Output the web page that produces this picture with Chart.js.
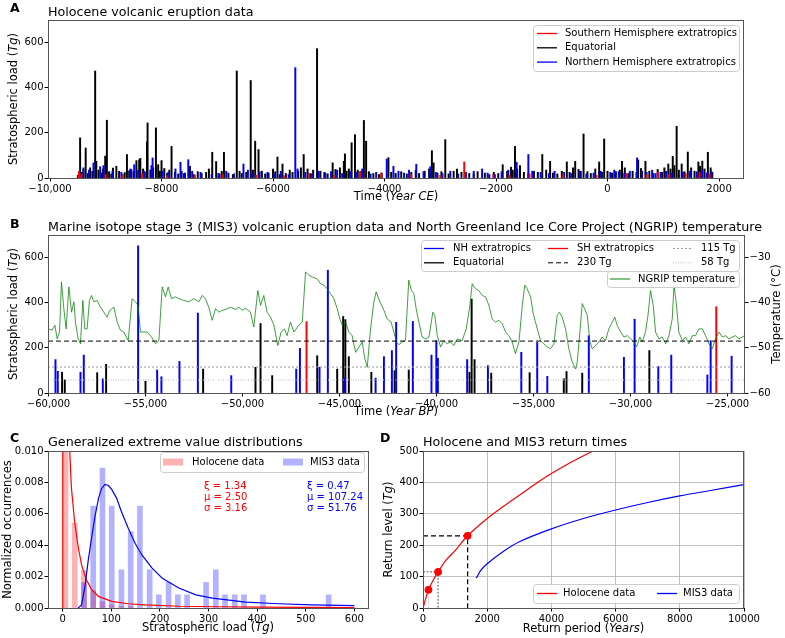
<!DOCTYPE html>
<html>
<head>
<meta charset="utf-8">
<script src="https://cdn.jsdelivr.net/npm/chart.js@4.4.1/dist/chart.umd.min.js"></script>
<style>
  html, body { margin: 0; padding: 0; background: #fff; }
  #wrap { position: relative; width: 785px; height: 638px; }
  #wrap canvas { position: absolute; left: 0; top: 0; }
</style>
</head>
<body>
<div id="wrap">
  <canvas id="chartA" width="785" height="638"></canvas>
  <canvas id="chartB" width="785" height="638"></canvas>
  <canvas id="chartC" width="785" height="638"></canvas>
  <canvas id="chartD" width="785" height="638"></canvas>
</div>
<script>
// ---------- Panel A: Holocene eruptions, [year CE, stratospheric load Tg] ----------
const holoSH = [[-9480,30],[-9440,18],[-9000,15],[-8700,12],[-8350,20],[-7900,10],[-7400,12],[-6900,15],
  [-6300,12],[-5800,10],[-5350,18],[-4900,12],[-4440,28],[-4060,22],[-3520,15],[-3000,12],[-2570,71],
  [-2050,15],[-1760,12],[-1400,18],[-800,15],[-200,12],[350,20],[700,15],[900,25],[1100,15],[1400,20],
  [1650,25],[1830,18]];
const holoEq = [[-9500,12],[-9460,178],[-9430,25],[-9400,38],[-9360,133],[-9320,20],[-9280,45],[-9240,30],
  [-9190,474],[-9170,74],[-9130,35],[-9080,22],[-9050,40],[-9010,97],[-8980,256],[-8940,28],[-8900,18],
  [-8870,44],[-8810,52],[-8760,30],[-8700,15],[-8660,24],[-8620,104],[-8580,32],[-8540,37],[-8500,28],
  [-8450,77],[-8400,81],[-8380,87],[-8330,40],[-8300,25],[-8260,160],[-8250,244],[-8200,35],[-8150,45],
  [-8100,222],[-8060,59],[-8030,30],[-8000,77],[-7950,42],[-7900,20],[-7860,35],[-7820,140],[-7760,25],
  [-7700,18],[-7640,30],[-7580,22],[-7490,52],[-7420,15],[-7350,28],[-7280,20],[-7200,25],[-7150,40],
  [-7090,114],[-7020,73],[-6960,18],[-6920,30],[-6880,114],[-6800,22],[-6720,15],[-6650,474],[-6600,30],
  [-6560,20],[-6480,25],[-6400,432],[-6360,35],[-6320,163],[-6260,126],[-6200,30],[-6140,18],[-6080,22],
  [-6000,40],[-5960,28],[-5920,93],[-5880,15],[-5830,62],[-5770,20],[-5700,35],[-5650,25],[-5550,30],
  [-5500,45],[-5450,104],[-5380,40],[-5330,20],[-5280,35],[-5210,573],[-5150,30],[-5080,25],[-5020,18],
  [-4930,67],[-4880,38],[-4800,45],[-4730,74],[-4710,107],[-4680,30],[-4640,40],[-4590,156],[-4530,192],
  [-4480,35],[-4420,30],[-4370,255],[-4330,163],[-4280,28],[-4200,20],[-4100,15],[-4050,22],[-3930,90],
  [-3880,25],[-3800,20],[-3700,28],[-3600,18],[-3520,25],[-3440,35],[-3380,20],[-3280,30],[-3200,40],
  [-3150,121],[-3120,67],[-3050,22],[-2980,28],[-2910,170],[-2850,18],[-2760,30],[-2700,40],[-2620,25],
  [-2480,20],[-2400,18],[-2330,28],[-2200,22],[-2120,15],[-2040,25],[-1960,20],[-1880,59],[-1800,30],
  [-1730,48],[-1700,35],[-1660,140],[-1620,40],[-1570,55],[-1500,25],[-1420,20],[-1320,30],[-1250,25],
  [-1170,104],[-1100,35],[-1030,74],[-980,22],[-900,18],[-820,30],[-730,71],[-680,25],[-620,45],[-580,74],
  [-520,38],[-480,30],[-430,195],[-360,28],[-300,20],[-220,40],[-150,71],[-100,25],[-60,173],[0,30],
  [80,22],[150,28],[220,35],[260,74],[310,45],[380,20],[450,30],[520,25],[550,80],[600,42],[680,74],
  [750,30],[820,20],[900,38],[980,25],[1020,45],[1090,62],[1130,40],[1170,96],[1200,55],[1240,229],
  [1280,35],[1330,62],[1380,28],[1440,115],[1500,45],[1560,30],[1630,71],[1660,52],[1700,75],[1740,40],
  [1800,114],[1850,45],[1880,25]];
const holoNH = [[-9400,45],[-9300,35],[-9220,67],[-9100,50],[-9040,55],[-8880,30],[-8720,25],[-8560,40],
  [-8490,59],[-8420,35],[-8310,30],[-8180,55],[-8160,89],[-7980,30],[-7880,25],[-7750,40],[-7660,70],
  [-7600,20],[-7520,81],[-7450,30],[-7300,25],[-7100,15],[-6980,20],[-6840,30],[-6700,18],[-6530,62],
  [-6450,35],[-6380,20],[-6240,28],[-6100,25],[-5980,20],[-5860,30],[-5720,15],[-5600,489],[-5560,40],
  [-5420,25],[-5300,18],[-5180,30],[-5060,22],[-4960,28],[-4850,35],[-4760,20],[-4620,30],[-4500,25],
  [-4400,40],[-4250,18],[-4150,25],[-3960,84],[-3840,52],[-3750,30],[-3650,22],[-3560,35],[-3430,61],
  [-3300,28],[-3180,50],[-3080,25],[-2960,20],[-2820,30],[-2680,18],[-2540,25],[-2400,30],[-2250,40],
  [-2150,22],[-2020,15],[-1900,28],[-1780,35],[-1630,70],[-1420,104],[-1350,30],[-1200,25],[-1050,20],
  [-950,30],[-780,25],[-650,20],[-500,30],[-380,18],[-250,22],[-120,30],[50,25],[120,35],[200,28],
  [300,20],[400,30],[530,89],[620,30],[700,25],[800,35],[860,20],[950,25],[1050,30],[1150,20],[1350,25],
  [1480,30],[1600,28],[1700,35],[1780,22],[1860,30]];
const holoTicksX = [-10000, -8000, -6000, -4000, -2000, 0, 2000];
const loadTicks = [0, 200, 400, 600];

// ---------- Panel B: MIS3 eruptions [year BP, Tg] and NGRIP temperature [year BP, degC] ----------
const mis3NH = [[-59640,148],[-59520,96],[-58350,92],[-58180,168],[-57200,63],[-55380,652],[-54400,102],
  [-54180,72],[-53250,140],[-52300,354],[-50580,77],[-47230,106],[-47040,198],[-46030,114],[-45600,544],
  [-44760,66],[-43140,66],[-42710,161],[-42300,188],[-42080,313],[-41220,317],[-40260,168],[-40010,232],
  [-39930,154],[-38420,148],[-37350,121],[-35630,180],[-34810,224],[-34290,74],[-32150,254],[-30340,158],
  [-29790,327],[-28570,117],[-27900,168],[-26040,80],[-25870,232],[-24790,163]];
const mis3Eq = [[-59300,92],[-59160,58],[-57490,90],[-57030,127],[-55000,52],[-52030,106],[-49330,114],
  [-49070,308],[-48470,77],[-46150,165],[-45120,106],[-44810,339],[-44700,325],[-44520,161],[-43360,92],
  [-42160,99],[-41430,102],[-38300,92],[-38190,416],[-38040,148],[-37180,88],[-35200,90],[-33440,63],
  [-33300,95],[-32490,88],[-29030,188]];
const mis3SH = [[-46700,316],[-25580,382]];
const ngripTemp = [[-60000,-45.8],[-59810,-46.1],[-59670,-45.0],[-59550,-48.0],[-59430,-46.5],[-59330,-35.4],
  [-59210,-41.3],[-59090,-45.8],[-58950,-36.5],[-58810,-42.1],[-58690,-39.8],[-58610,-44.3],[-58470,-48.0],
  [-58350,-49.1],[-58230,-39.5],[-58130,-45.8],[-58010,-45.8],[-57890,-39.5],[-57780,-38.4],[-57660,-39.8],
  [-57490,-39.5],[-57320,-41.0],[-57150,-42.1],[-56980,-43.2],[-56840,-41.7],[-56630,-41.0],[-56460,-44.3],
  [-56290,-46.1],[-56120,-46.5],[-55890,-48.4],[-55690,-39.1],[-55520,-39.8],[-55380,-40.6],[-55260,-46.5],
  [-55140,-46.5],[-54910,-46.5],[-54690,-47.6],[-54480,-49.1],[-54310,-48.4],[-54140,-36.5],[-53970,-38.7],
  [-53830,-36.5],[-53660,-39.1],[-53450,-38.7],[-53280,-39.1],[-53020,-39.5],[-52770,-39.8],[-52510,-39.1],
  [-52250,-39.8],[-52080,-38.4],[-51910,-39.1],[-51740,-41.0],[-51560,-43.9],[-51390,-41.3],[-51220,-42.1],
  [-51050,-41.7],[-50880,-41.5],[-50620,-41.0],[-50360,-41.5],[-50190,-41.0],[-50020,-41.7],[-49850,-41.2],
  [-49590,-42.1],[-49420,-45.4],[-49210,-37.3],[-49070,-40.6],[-48900,-38.4],[-48730,-42.1],[-48560,-43.2],
  [-48380,-45.0],[-48180,-49.5],[-48010,-46.5],[-47830,-45.8],[-47700,-47.3],[-47530,-44.3],[-47350,-46.5],
  [-47100,-45.0],[-46920,-44.3],[-46750,-33.2],[-46580,-33.9],[-46410,-34.3],[-46150,-34.7],[-45980,-35.8],
  [-45810,-36.1],[-45640,-36.9],[-45460,-38.0],[-45290,-39.1],[-45120,-41.3],[-44980,-43.6],[-44860,-45.0],
  [-44690,-44.3],[-44520,-46.5],[-44350,-47.3],[-44170,-51.0],[-44000,-49.8],[-43830,-48.7],[-43710,-52.1],
  [-43570,-54.3],[-43400,-45.8],[-43230,-39.8],[-43110,-37.6],[-42920,-39.8],[-42710,-41.7],[-42540,-43.6],
  [-42340,-44.3],[-42200,-46.5],[-42060,-48.7],[-41940,-49.3],[-41770,-48.7],[-41600,-48.4],[-41430,-35.0],
  [-41290,-37.3],[-41170,-38.0],[-41050,-41.3],[-40910,-44.3],[-40740,-47.6],[-40570,-48.0],[-40390,-47.6],
  [-40190,-42.1],[-40090,-42.8],[-39960,-47.3],[-39790,-49.8],[-39620,-48.4],[-39450,-49.1],[-39280,-48.7],
  [-39110,-49.5],[-38930,-48.0],[-38680,-48.4],[-38470,-45.8],[-38300,-41.3],[-38160,-35.8],[-37990,-36.9],
  [-37820,-37.3],[-37640,-38.4],[-37470,-38.7],[-37300,-40.6],[-37130,-43.6],[-36960,-44.3],[-36790,-43.9],
  [-36610,-44.7],[-36440,-46.5],[-36270,-47.3],[-36100,-48.7],[-35930,-51.3],[-35750,-48.7],[-35580,-40.6],
  [-35450,-36.1],[-35330,-36.9],[-35150,-38.7],[-35030,-42.1],[-34900,-44.3],[-34760,-46.5],[-34640,-48.4],
  [-34470,-49.1],[-34290,-49.8],[-34120,-50.2],[-33950,-49.1],[-33780,-42.8],[-33660,-42.1],[-33520,-43.2],
  [-33350,-45.8],[-33180,-50.2],[-33000,-53.2],[-32830,-54.7],[-32750,-53.2],[-32610,-46.5],[-32490,-40.2],
  [-32370,-41.3],[-32230,-42.8],[-32090,-48.7],[-31970,-50.2],[-31800,-49.5],[-31630,-48.7],[-31460,-47.6],
  [-31290,-48.4],[-31120,-45.8],[-30940,-44.3],[-30810,-43.2],[-30690,-45.0],[-30510,-46.5],[-30340,-47.6],
  [-30170,-47.3],[-30000,-48.0],[-29830,-48.7],[-29690,-49.8],[-29520,-47.6],[-29400,-48.7],[-29230,-46.5],
  [-29100,-42.8],[-28970,-37.3],[-28830,-40.6],[-28710,-46.5],[-28540,-48.0],[-28370,-47.6],[-28190,-49.1],
  [-28020,-47.3],[-27850,-43.6],[-27760,-36.1],[-27630,-40.6],[-27510,-46.5],[-27330,-48.4],[-27160,-47.6],
  [-26990,-49.1],[-26820,-47.3],[-26650,-47.3],[-26480,-45.8],[-26300,-45.8],[-26130,-47.3],[-25960,-49.1],
  [-25790,-50.2],[-25620,-48.0],[-25440,-46.5],[-25270,-47.6],[-25100,-47.3],[-24930,-48.0],[-24760,-47.6],
  [-24590,-47.3],[-24410,-48.0],[-24240,-47.6],[-24120,-47.3]];
const mis3Thresholds = [230, 115, 58];
const mis3TicksX = [-60000, -55000, -50000, -45000, -40000, -35000, -30000, -25000];
const tempTicks = [-60, -50, -40, -30];

// ---------- Panel C: histograms and GEV fits ----------
const holoHistLoad = [6, 25, 44, 63, 82, 101, 121, 140];
const holoHistDensity = [0.047, 0.0054, 0.0024, 0.0011, 0.0004, 0.0002, 0.0001, 0.0001];
const mis3HistLoad = [44, 63, 82, 101, 121, 140, 159, 179, 198, 218, 237, 256, 295, 315, 334, 354, 373, 412, 547];
const mis3HistDensity = [0.00163, 0.00649, 0.00892, 0.00649, 0.00243, 0.00486, 0.00649, 0.00243, 0.00084,
  0.00163, 0.00084, 0.00084, 0.00163, 0.00243, 0.00084, 0.00084, 0.00084, 0.00084, 0.00084];
const holoGevLoad = [0.14, 0.4, 1, 2, 4, 7, 10, 15, 18, 25, 32, 39, 49, 60, 74, 101, 135, 170, 240, 320, 400, 500, 600];
const holoGevPdf = [0, 0.05, 0.09, 0.07, 0.04, 0.02, 0.013, 0.0098, 0.0077, 0.0054, 0.0039, 0.00275, 0.0018,
  0.00116, 0.00074, 0.00042, 0.00027, 0.0002, 0.00011, 0.00008, 0.00006, 0.00004, 0.00003];
const mis3GevLoad = [32, 39, 46, 53, 60, 67, 74, 80, 87, 94, 101, 111, 121, 135, 149, 163, 184, 205, 239, 274,
  308, 376, 445, 513, 600];
const mis3GevPdf = [0, 0.0002, 0.00137, 0.0031, 0.00455, 0.0059, 0.0070, 0.0076, 0.00787, 0.0078, 0.00755,
  0.0070, 0.00613, 0.00508, 0.00412, 0.00338, 0.00254, 0.0019, 0.00127, 0.00084, 0.00063, 0.00038, 0.00027,
  0.0002, 0.00015];
const holoGevParams = ['\u03be = 1.34', '\u03bc = 2.50', '\u03c3 = 3.16'];
const mis3GevParams = ['\u03be = 0.47', '\u03bc = 107.24', '\u03c3 = 51.76'];
const gevTicksX = [0, 100, 200, 300, 400, 500, 600];
const gevTicksY = [0, 0.002, 0.004, 0.006, 0.008, 0.010];

// ---------- Panel D: return levels ----------
const holoReturnPeriod = [20, 50, 100, 170, 300, 470, 700, 1000, 1390, 2000, 2500, 3000, 3500, 4000, 4500, 5000, 5300];
const holoReturnLevel = [5, 18, 35, 58, 85, 115, 150, 183, 230, 285, 323, 359, 395, 428, 458, 485, 500];
const mis3ReturnPeriod = [1660, 1800, 2000, 2500, 3000, 4000, 5000, 6000, 7000, 8000, 9000, 10000];
const mis3ReturnLevel = [95, 120, 141, 180, 211, 252, 285, 312, 336, 357, 375, 393];
const markedPeriod = [170, 470, 1390];
const markedLevel = [58, 115, 230];
const returnTicksX = [0, 2000, 4000, 6000, 8000, 10000];
const returnTicksY = [0, 100, 200, 300, 400, 500];

// ---------- helpers ----------
const FONT = '"DejaVu Sans", sans-serif';
Chart.defaults.font.family = FONT;
Chart.defaults.font.size = 10;
Chart.defaults.color = '#000';

const RED = '#ff0000', BLUE = '#0000ff', GREEN = 'rgba(0,128,0,0.75)';

function pairs(list) { return list.map(p => ({ x: p[0], y: p[1] })); }
function zip(xs, ys) { return xs.map((x, i) => ({ x: x, y: ys[i] })); }
const fmtPlain = v => (v < 0 ? '\u2212' : '') + Math.abs(v);
const fmtComma = v => (v < 0 ? '\u2212' : '') +
  (Math.abs(v) >= 10000 ? Math.abs(v).toLocaleString('en-US') : String(Math.abs(v)));

function axis(o) {
  return {
    type: 'linear', position: o.position, min: o.min, max: o.max, offset: false,
    afterBuildTicks: s => { s.ticks = o.ticks.map(v => ({ value: v })); },
    afterFit: s => {
      if (o.width != null) s.width = o.width;
      if (o.height != null) s.height = o.height;
    },
    ticks: { autoSkip: false, maxRotation: 0, minRotation: 0, padding: o.padding, color: '#000',
      font: { size: 10 }, callback: o.fmt },
    grid: { display: true, offset: false, drawOnChartArea: !!o.grid, drawTicks: true, tickLength: 3.5,
      tickColor: '#000', tickWidth: 1, color: '#b0b0b0', lineWidth: 0.8 },
    border: { display: false }
  };
}

function bars(list, color, order, thick) {
  return { type: 'bar', data: pairs(list), backgroundColor: color, borderWidth: 0, barThickness: thick || 1.3,
    grouped: false, order: order, clip: 0 };
}
function hline(y, xmin, xmax, color, dash, order, yAxisID) {
  return { type: 'line', data: [{ x: xmin, y: y }, { x: xmax, y: y }], borderColor: color, borderWidth: 1,
    borderDash: dash, pointRadius: 0, order: order, yAxisID: yAxisID || 'y' };
}

function text(ctx, str, x, y, o) {
  o = o || {};
  ctx.save();
  ctx.font = (o.weight || '') + ' ' + (o.size || 10) + 'px ' + FONT;
  ctx.fillStyle = o.color || '#000';
  ctx.textAlign = o.align || 'left';
  ctx.textBaseline = o.baseline || 'middle';
  ctx.fillText(str, x, y);
  ctx.restore();
}
// parts: [text, italic]
function rich(ctx, parts, x, y, size, rotate) {
  ctx.save();
  ctx.translate(x, y);
  if (rotate) ctx.rotate(rotate);
  ctx.textBaseline = 'middle';
  ctx.textAlign = 'left';
  ctx.fillStyle = '#000';
  const fonts = parts.map(p => (p[1] ? 'italic ' : '') + size + 'px ' + FONT);
  const widths = parts.map((p, i) => { ctx.font = fonts[i]; return ctx.measureText(p[0]).width; });
  let cx = -widths.reduce((a, b) => a + b, 0) / 2;
  parts.forEach((p, i) => { ctx.font = fonts[i]; ctx.fillText(p[0], cx, 0); cx += widths[i]; });
  ctx.restore();
}
function frame(ctx, a) {
  ctx.save();
  ctx.strokeStyle = '#555';
  ctx.lineWidth = 1;
  const l = Math.round(a.left), t = Math.round(a.top), r = Math.round(a.right), b = Math.round(a.bottom);
  ctx.strokeRect(l + 0.5, t + 0.5, r - l - 1, b - t);
  ctx.restore();
}
function legendBox(ctx, x, y, w, h) {
  ctx.save();
  ctx.fillStyle = 'rgba(255,255,255,0.85)';
  ctx.strokeStyle = '#cccccc';
  ctx.lineWidth = 1;
  ctx.beginPath();
  if (ctx.roundRect) ctx.roundRect(x + 0.5, y + 0.5, w, h, 3); else ctx.rect(x + 0.5, y + 0.5, w, h);
  ctx.fill();
  ctx.stroke();
  ctx.restore();
}
function legendLine(ctx, x1, x2, y, color, dash, width) {
  ctx.save();
  ctx.strokeStyle = color;
  ctx.lineWidth = width || 1.3;
  ctx.setLineDash(dash || []);
  ctx.beginPath();
  ctx.moveTo(x1, y);
  ctx.lineTo(x2, y);
  ctx.stroke();
  ctx.restore();
}
function titles(ctx, letter, lx, ly, title, tx, ty) {
  text(ctx, letter, lx, ly, { size: 12.5, weight: 'bold', baseline: 'alphabetic' });
  text(ctx, title, tx, ty, { size: 12.7, baseline: 'alphabetic' });
}

function makeChart(id, datasets, scales, padding, decor) {
  return new Chart(document.getElementById(id), {
    type: 'line',
    data: { datasets: datasets },
    options: {
      responsive: false, animation: false, devicePixelRatio: 1,
      layout: { padding: padding },
      scales: scales,
      plugins: { legend: { display: false }, tooltip: { enabled: false }, title: { display: false } }
    },
    plugins: [{ id: 'decor', afterDraw(chart) { frame(chart.ctx, chart.chartArea); decor(chart.ctx, chart); } }]
  });
}

// ---------- Panel A ----------
makeChart('chartA', [
  bars(holoSH, RED, 0),
  bars(holoNH, BLUE, 1),
  bars(holoEq, '#000', 2)
], {
  x: axis({ position: 'bottom', min: -10036, max: 2448, ticks: holoTicksX, fmt: fmtComma, height: 27, padding: 2 }),
  y: axis({ position: 'left', min: 0, max: 700, ticks: loadTicks, fmt: fmtPlain, width: 48, padding: 1 })
}, { left: 0, top: 20, right: 41, bottom: 433 }, (ctx) => {
  titles(ctx, 'A', 10, 12, 'Holocene volcanic eruption data', 48, 15.5);
  rich(ctx, [['Stratospheric load (', false], ['Tg', true], [')', false]], 14, 99, 11.5, -Math.PI / 2);
  rich(ctx, [['Time (', false], ['Year CE', true], [')', false]], 396, 197, 11.5);
  legendBox(ctx, 533, 25, 206, 46);
  const rows = [['Southern Hemisphere extratropics', RED], ['Equatorial', '#000'], ['Northern Hemisphere extratropics', BLUE]];
  rows.forEach((r, i) => {
    const y = 33.5 + i * 14.3;
    legendLine(ctx, 537, 557, y, r[1]);
    text(ctx, r[0], 565, y, { size: 10 });
  });
});

// ---------- Panel B ----------
const bMin = -60025, bMax = -24100;
makeChart('chartB', [
  bars(mis3SH, RED, 3),
  bars(mis3NH, BLUE, 4),
  bars(mis3Eq, '#000', 5),
  { type: 'line', data: pairs(ngripTemp), yAxisID: 'y1', borderColor: GREEN, borderWidth: 1, pointRadius: 0, order: 2 },
  hline(mis3Thresholds[0], bMin, bMax, '#000', [5, 3], 0),
  hline(mis3Thresholds[1], bMin, bMax, '#999', [2, 2], 1),
  hline(mis3Thresholds[2], bMin, bMax, '#bbb', [1, 1.5], 1)
], {
  x: axis({ position: 'bottom', min: bMin, max: bMax, ticks: mis3TicksX, fmt: fmtComma, height: 27, padding: 2 }),
  y: axis({ position: 'left', min: 0, max: 700, ticks: loadTicks, fmt: fmtPlain, width: 48, padding: 1 }),
  y1: axis({ position: 'right', min: -60, max: -25, ticks: tempTicks, fmt: fmtPlain, width: 40, padding: 1 })
}, { left: 0, top: 235, right: 0, bottom: 218 }, (ctx) => {
  titles(ctx, 'B', 10, 228, 'Marine isotope stage 3 (MIS3) volcanic eruption data and North Greenland Ice Core Project (NGRIP) temperature', 48, 231);
  rich(ctx, [['Stratospheric load (', false], ['Tg', true], [')', false]], 14, 314, 11.5, -Math.PI / 2);
  rich(ctx, [['Temperature (\u00b0C)', false]], 777, 314, 11.5, -Math.PI / 2);
  rich(ctx, [['Time (', false], ['Year BP', true], [')', false]], 396, 412, 11.5);
  legendBox(ctx, 421, 240, 318, 31);
  const cols = [[424, 453], [548, 577], [673, 701]];
  const items = [
    ['NH extratropics', BLUE, [], 0, 0], ['SH extratropics', RED, [], 1, 0], ['115 Tg', '#999', [2, 2], 2, 0],
    ['Equatorial', '#000', [], 0, 1], ['230 Tg', '#000', [5, 3], 1, 1], ['58 Tg', '#bbb', [1, 1.5], 2, 1]
  ];
  items.forEach(it => {
    const c = cols[it[3]], y = 248.5 + it[4] * 14.3;
    legendLine(ctx, c[0], c[0] + 20, y, it[1], it[2], it[2].length ? 1 : 1.3);
    text(ctx, it[0], c[1], y, { size: 10 });
  });
  legendBox(ctx, 607, 271, 132, 16);
  legendLine(ctx, 610, 630, 279, GREEN);
  text(ctx, 'NGRIP temperature', 638, 279, { size: 10 });
});

// ---------- Panel C ----------
makeChart('chartC', [
  { type: 'bar', data: zip(holoHistLoad, holoHistDensity), backgroundColor: 'rgba(255,0,0,0.3)', borderWidth: 0,
    barThickness: 5, grouped: false, order: 3, clip: 0 },
  { type: 'bar', data: zip(mis3HistLoad, mis3HistDensity), backgroundColor: 'rgba(0,0,255,0.3)', borderWidth: 0,
    barThickness: 5, grouped: false, order: 2, clip: 0 },
  { type: 'line', data: zip(holoGevLoad, holoGevPdf), borderColor: RED, borderWidth: 1.2, pointRadius: 0, order: 1 },
  { type: 'line', data: zip(mis3GevLoad, mis3GevPdf), borderColor: BLUE, borderWidth: 1.2, pointRadius: 0, order: 0 }
], {
  x: axis({ position: 'bottom', min: -30, max: 630, ticks: gevTicksX, fmt: fmtPlain, height: 30, padding: 2 }),
  y: axis({ position: 'left', min: 0, max: 0.010, ticks: gevTicksY, fmt: v => v.toFixed(3), width: 48, padding: 1 })
}, { left: 0, top: 451, right: 416, bottom: 0 }, (ctx) => {
  titles(ctx, 'C', 10, 442, 'Generalized extreme value distributions', 48, 445.5);
  rich(ctx, [['Normalized occurrences', false]], 8, 529.5, 11.5, -Math.PI / 2);
  rich(ctx, [['Stratospheric load (', false], ['Tg', true], [')', false]], 208, 628, 11.5);
  holoGevParams.forEach((s, i) => text(ctx, s, 204, 486 + i * 11.4, { size: 10, color: RED }));
  mis3GevParams.forEach((s, i) => text(ctx, s, 307, 486 + i * 11.4, { size: 10, color: BLUE }));
  legendBox(ctx, 160, 452, 204, 20);
  ctx.save();
  ctx.fillStyle = 'rgba(255,0,0,0.3)';
  ctx.fillRect(163, 458.5, 20, 7);
  ctx.fillStyle = 'rgba(0,0,255,0.3)';
  ctx.fillRect(283, 458.5, 20, 7);
  ctx.restore();
  text(ctx, 'Holocene data', 192, 462, { size: 10 });
  text(ctx, 'MIS3 data', 310, 462, { size: 10 });
});

// ---------- Panel D ----------
const refColors = ['#000', '#555', '#aaa'];
const refDash = [[5, 3], [2, 1.5], [1, 1.5]];
const refLines = markedPeriod.map((p, i) => ({
  type: 'line', data: [{ x: 0, y: markedLevel[i] }, { x: p, y: markedLevel[i] }, { x: p, y: 0 }],
  borderColor: refColors[2 - i], borderDash: refDash[2 - i], borderWidth: i === 2 ? 1.2 : 1, pointRadius: 0, order: 3
}));
makeChart('chartD', refLines.concat([
  { type: 'line', data: zip(holoReturnPeriod, holoReturnLevel), borderColor: RED, borderWidth: 1.2, pointRadius: 0,
    tension: 0.3, order: 2 },
  { type: 'line', data: zip(mis3ReturnPeriod, mis3ReturnLevel), borderColor: BLUE, borderWidth: 1.2, pointRadius: 0,
    tension: 0.3, order: 2 },
  { type: 'line', data: zip(markedPeriod, markedLevel), showLine: false, pointRadius: 3.5, pointBackgroundColor: RED,
    pointBorderColor: RED, order: 0 }
]), {
  x: axis({ position: 'bottom', min: 0, max: 10000, ticks: returnTicksX, fmt: fmtPlain, height: 30, padding: 2, grid: true }),
  y: axis({ position: 'left', min: 0, max: 500, ticks: returnTicksY, fmt: fmtPlain, width: 48, padding: 1, grid: true })
}, { left: 375, top: 451, right: 41, bottom: 0 }, (ctx) => {
  titles(ctx, 'D', 380, 442, 'Holocene and MIS3 return times', 423, 445.5);
  rich(ctx, [['Return level (', false], ['Tg', true], [')', false]], 389, 529.5, 11.5, -Math.PI / 2);
  rich(ctx, [['Return period (', false], ['Years', true], [')', false]], 583.5, 629, 11.5);
  legendBox(ctx, 533, 584, 206, 19);
  legendLine(ctx, 537, 557, 593.5, RED);
  text(ctx, 'Holocene data', 563, 593.5, { size: 10 });
  legendLine(ctx, 657, 677, 593.5, BLUE);
  text(ctx, 'MIS3 data', 683, 593.5, { size: 10 });
});
</script>
</body>
</html>
